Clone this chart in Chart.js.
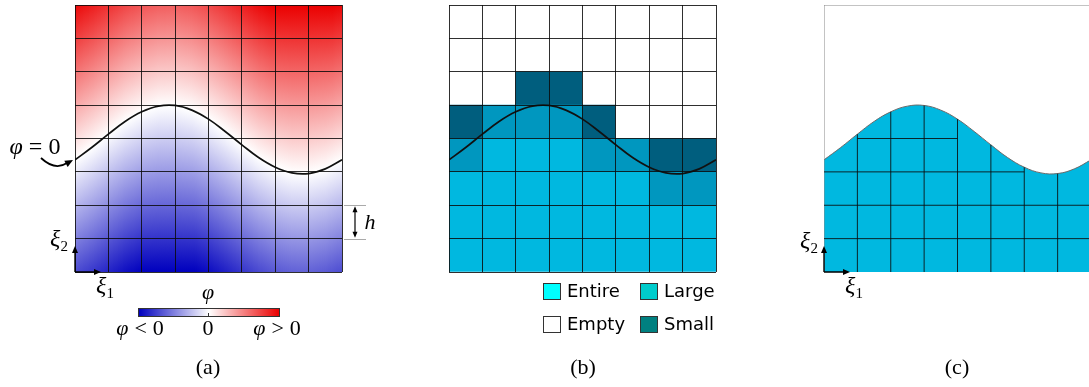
<!DOCTYPE html>
<html>
<head>
<meta charset="utf-8">
<script src="https://cdn.jsdelivr.net/npm/chart.js@4.4.1/dist/chart.umd.min.js"></script>
<style>
  html, body { margin: 0; padding: 0; background: #fff; overflow: hidden; }
  #wrap { position: relative; width: 1089px; height: 387px; overflow: hidden; }
  canvas { position: absolute; left: 0; top: 0; }
  .t { position: absolute; transform: translate(-50%, -50%); white-space: nowrap;
       font-family: "Liberation Serif", serif; font-size: 22px; line-height: 1; color: #000; }
  .m { font-size: 24px; }
  .sb { font-size: 15px; position: relative; top: 5px; font-style: normal; }
  .op { margin: 0 6px; }
  .leg { position: absolute; font-family: "DejaVu Sans", sans-serif; font-size: 18px; line-height: 18px; }
  .box { position: absolute; width: 18px; height: 17px; border: 1px solid #333; box-sizing: border-box; }
  #cbar { position: absolute; left: 138px; top: 308px; width: 142px; height: 9px; box-sizing: border-box;
          border: 1px solid #333; background: linear-gradient(to right, rgb(0,0,190), #fff, rgb(235,0,0)); }
  #ctick { position: absolute; left: 208px; top: 313px; width: 1px; height: 4px; background: #333; }
</style>
</head>
<body>
<div id="wrap">
  <canvas id="panelA" width="1089" height="387"></canvas>
  <canvas id="panelB" width="1089" height="387"></canvas>
  <canvas id="panelC" width="1100" height="387"></canvas>

  <div class="t m" style="left:35px; top:146px"><i>φ</i><span class="op">=</span>0</div>
  <div class="t m" style="left:59px; top:238px"><i>ξ</i><span class="sb">2</span></div>
  <div class="t m" style="left:105px; top:285px"><i>ξ</i><span class="sb">1</span></div>
  <div class="t" style="left:370px; top:222px"><i>h</i></div>
  <div class="t" style="left:208px; top:292px"><i>φ</i></div>
  <div id="cbar"></div><div id="ctick"></div>
  <div id="cbarLabels"></div>
  <div id="legend"></div>
  <div class="t m" style="left:809px; top:240px"><i>ξ</i><span class="sb">2</span></div>
  <div class="t m" style="left:854px; top:285px"><i>ξ</i><span class="sb">1</span></div>
  <div id="captions"></div>
</div>
<script>
// zero level curve phi = 0 (grid units, 8 x 8 cells)
const curveX = [0, 0.5, 1, 1.5, 2, 2.5, 3, 3.5, 4, 4.5, 5, 5.5, 6, 6.5, 7, 7.5, 8];
const curveY = [3.36, 3.73, 4.13, 4.51, 4.80, 4.97, 4.99, 4.85, 4.58, 4.21, 3.81, 3.43, 3.14, 2.97, 2.95, 3.09, 3.36];

// cell classes, bottom row first: E entire, L large, S small, O empty
const cellRows = ['EEEEEEEE', 'EEEEEEEE', 'EEEEEELL', 'LEEELLSS', 'SLLLSOOO', 'OOSSOOOO', 'OOOOOOOO', 'OOOOOOOO'];
const cellColors = { E: '#00b8e0', L: '#0097bf', S: '#005e7e', O: '#ffffff' };

const legendNames = ['Entire', 'Large', 'Empty', 'Small'];
const legendColors = ['#00ffff', '#00cccc', '#ffffff', '#008080'];

// merged mesh of panel (c): vertical cuts stop at the curve, horizontal [y, from, to]
const cutVertX = [1, 2, 3, 4, 5, 6, 7];
const cutHoriz = [[1, 0, 8], [2, 0, 8], [3, 0, 6], [4, 1, 4]];

const colorbarLabels = ['<i>φ</i><span class="op">&lt;</span>0', '0', '<i>φ</i><span class="op">&gt;</span>0'];
const captions = ['(a)', '(b)', '(c)'];

const phiRange = 4.8;
const red = [235, 0, 0], blue = [0, 0, 190];

const curvePts = curveX.map((x, i) => ({ x: x, y: curveY[i] }));

function curveAt(x) {
  for (let i = 1; i < curveX.length; i++) {
    if (x <= curveX[i]) {
      const f = (x - curveX[i - 1]) / (curveX[i] - curveX[i - 1]);
      return curveY[i - 1] + f * (curveY[i] - curveY[i - 1]);
    }
  }
  return curveY[curveY.length - 1];
}

function phiColor(t) {
  const end = t > 0 ? red : blue;
  const k = Math.min(Math.abs(t), 1);
  const c = end.map(v => Math.round(255 + (v - 255) * k));
  return 'rgb(' + c.join(',') + ')';
}

function gridScale(show) {
  return {
    type: 'linear', min: 0, max: 8, offset: false,
    ticks: { display: false, stepSize: 1 },
    grid: { display: show, offset: false, drawTicks: false, color: 'rgba(10,10,10,0.85)', lineWidth: 1, z: 1 },
    border: { display: false }
  };
}

function baseOptions(pad, show) {
  return {
    responsive: false, animation: false, devicePixelRatio: 1,
    layout: { padding: pad },
    plugins: { legend: { display: false }, tooltip: { enabled: false } },
    elements: { point: { radius: 0 } },
    scales: { x: gridScale(show), y: gridScale(show) }
  };
}

function arrowHead(ctx, x, y, ang, len, w) {
  ctx.beginPath();
  ctx.moveTo(x, y);
  ctx.lineTo(x - len * Math.cos(ang) + w * Math.sin(ang), y - len * Math.sin(ang) - w * Math.cos(ang));
  ctx.lineTo(x - len * Math.cos(ang) - w * Math.sin(ang), y - len * Math.sin(ang) + w * Math.cos(ang));
  ctx.closePath();
  ctx.fill();
}

function drawAxesArrows(ctx, a) {
  ctx.save();
  ctx.strokeStyle = '#000'; ctx.fillStyle = '#000'; ctx.lineWidth = 1.4;
  ctx.beginPath();
  ctx.moveTo(a.left, a.bottom); ctx.lineTo(a.left + 20, a.bottom);
  ctx.moveTo(a.left, a.bottom); ctx.lineTo(a.left, a.bottom - 20);
  ctx.stroke();
  arrowHead(ctx, a.left + 26, a.bottom, 0, 7, 3);
  arrowHead(ctx, a.left, a.bottom - 26, -Math.PI / 2, 7, 3);
  ctx.restore();
}

// colour field of phi, column by column through the scales
const phiField = {
  id: 'phiField',
  beforeDatasetsDraw(chart) {
    const { ctx, chartArea: a, scales: { x, y } } = chart;
    const top = y.getPixelForValue(8), bot = y.getPixelForValue(0);
    ctx.save();
    for (let px = Math.floor(a.left); px < Math.ceil(a.right); px++) {
      const c = curveAt(x.getValueForPixel(px + 0.5));
      const g = ctx.createLinearGradient(0, top, 0, bot);
      g.addColorStop(0, phiColor((8 - c) / phiRange));
      g.addColorStop((8 - c) / 8, '#ffffff');
      g.addColorStop(1, phiColor(-c / phiRange));
      ctx.fillStyle = g;
      ctx.fillRect(px, top, 1, bot - top);
    }
    ctx.restore();
  }
};

const notesA = {
  id: 'notesA',
  afterDraw(chart) {
    const { ctx, chartArea: a, scales: { y } } = chart;
    drawAxesArrows(ctx, a);
    ctx.save();
    // curved pointer to phi = 0
    ctx.strokeStyle = '#000'; ctx.fillStyle = '#000'; ctx.lineWidth = 1.8;
    ctx.beginPath();
    ctx.moveTo(41, 158);
    ctx.quadraticCurveTo(55, 171, 67, 163);
    ctx.stroke();
    arrowHead(ctx, 73, 160, -0.5, 8, 3.5);
    // element size h
    const y2 = y.getPixelForValue(2), y1 = y.getPixelForValue(1);
    const hx = a.right + 13;
    ctx.strokeStyle = '#aaa'; ctx.lineWidth = 1;
    ctx.beginPath();
    ctx.moveTo(a.right + 2, Math.round(y2) + 0.5); ctx.lineTo(a.right + 24, Math.round(y2) + 0.5);
    ctx.moveTo(a.right + 2, Math.round(y1) + 0.5); ctx.lineTo(a.right + 24, Math.round(y1) + 0.5);
    ctx.stroke();
    ctx.strokeStyle = '#000'; ctx.lineWidth = 1.2;
    ctx.beginPath();
    ctx.moveTo(hx, y2 + 4); ctx.lineTo(hx, y1 - 4);
    ctx.stroke();
    arrowHead(ctx, hx, y2 + 1, -Math.PI / 2, 6, 2.5);
    arrowHead(ctx, hx, y1 - 1, Math.PI / 2, 6, 2.5);
    ctx.restore();
  }
};

const notesC = {
  id: 'notesC',
  afterDraw(chart) { drawAxesArrows(chart.ctx, chart.chartArea); }
};

// panel (a): level set field
new Chart(document.getElementById('panelA'), {
  type: 'line',
  data: {
    datasets: [{
      data: curvePts, borderColor: '#111', borderWidth: 1.7, tension: 0.4, fill: false
    }]
  },
  options: baseOptions({ left: 75, top: 5, right: 747, bottom: 115 }, true),
  plugins: [phiField, notesA]
});

// panel (b): cell classification
const cellSets = cellRows.map((row, r) => ({
  type: 'bar',
  data: row.split('').map((k, i) => ({ x: i + 0.5, y: [r, r + 1] })),
  backgroundColor: row.split('').map(k => cellColors[k]),
  borderWidth: 0, grouped: false, barPercentage: 1, categoryPercentage: 1, order: 2
}));
new Chart(document.getElementById('panelB'), {
  type: 'bar',
  data: {
    datasets: [{
      type: 'line', data: curvePts, borderColor: '#111', borderWidth: 1.7, tension: 0.4, fill: false, order: 0
    }].concat(cellSets)
  },
  options: baseOptions({ left: 449, top: 5, right: 373, bottom: 115 }, true)
});

// panel (c): cut mesh
const cutSets = [];
cutVertX.forEach(x => {
  cutSets.push({ data: [{ x: x, y: 0 }, { x: x, y: curveY[curveX.indexOf(x)] }] });
});
cutHoriz.forEach(h => {
  cutSets.push({ data: [{ x: h[1], y: h[0] }, { x: h[2], y: h[0] }] });
});
cutSets.forEach(s => Object.assign(s, { borderColor: 'rgba(10,10,10,0.85)', borderWidth: 1, fill: false, order: 0 }));

new Chart(document.getElementById('panelC'), {
  type: 'line',
  data: {
    datasets: cutSets.concat([
      { data: [{ x: 0, y: 0 }, { x: 0, y: 8 }, { x: 8, y: 8 }], borderColor: '#888', borderWidth: 1, fill: false, order: 1 },
      { data: curvePts, borderColor: '#6a6a6a', borderWidth: 1, tension: 0.4, fill: 'origin',
        backgroundColor: cellColors.E, order: 2 }
    ])
  },
  options: baseOptions({ left: 824, top: 5, right: 9, bottom: 115 }, false),
  plugins: [notesC]
});

// colour bar labels, legend and captions
const cbx = [140, 208, 277];
document.getElementById('cbarLabels').innerHTML = colorbarLabels.map((s, i) =>
  '<div class="t" style="left:' + cbx[i] + 'px; top:328px">' + s + '</div>').join('');

const legX = [543, 640], legY = [283, 316];
document.getElementById('legend').innerHTML = legendNames.map((n, i) => {
  const lx = legX[i % 2], ly = legY[Math.floor(i / 2)];
  return '<div class="box" style="left:' + lx + 'px; top:' + ly + 'px; background:' + legendColors[i] + '"></div>' +
         '<div class="leg" style="left:' + (lx + 24) + 'px; top:' + (ly - 1) + 'px">' + n + '</div>';
}).join('');

const capX = [208, 583, 957];
document.getElementById('captions').innerHTML = captions.map((s, i) =>
  '<div class="t" style="left:' + capX[i] + 'px; top:367px">' + s + '</div>').join('');
</script>
</body>
</html>
